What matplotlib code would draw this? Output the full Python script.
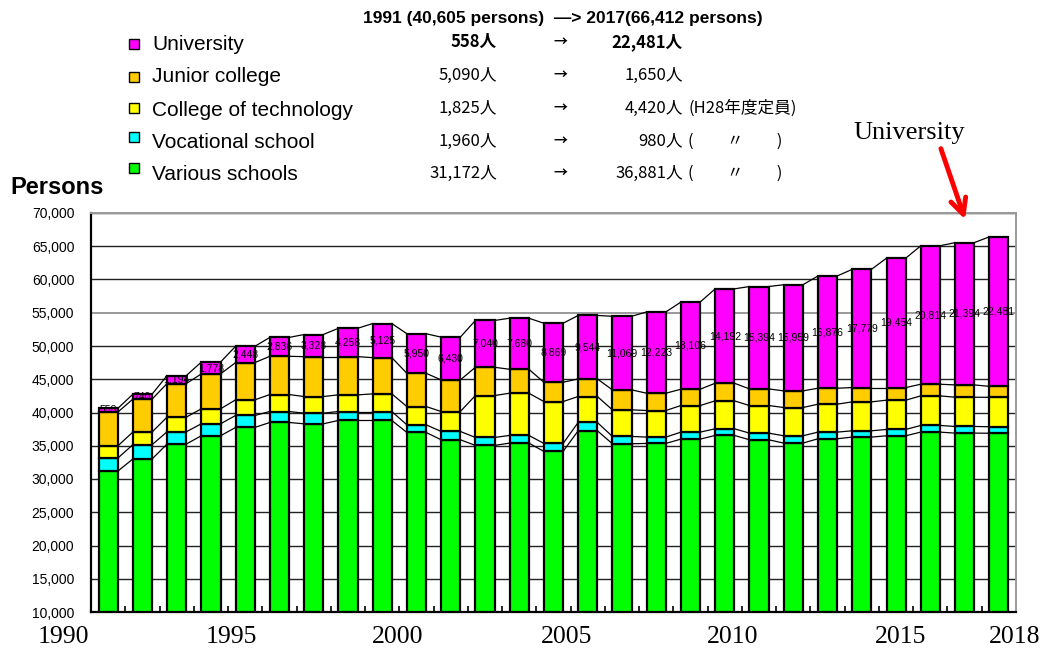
import matplotlib
matplotlib.use('Agg')
import matplotlib.pyplot as plt
import matplotlib.transforms as mtransforms
import numpy as np
from matplotlib.patches import Rectangle

years = list(range(1991, 2018))
various = [31172, 33000, 35250, 36500, 37750, 38500, 38300, 38800, 38800, 37000,
           35900, 35050, 35400, 34150, 37250, 35300, 35350, 36000, 36550, 35900,
           35400, 36050, 36300, 36500, 37050, 36900, 36881]
vocational = [1960, 2150, 1850, 1800, 1800, 1650, 1600, 1350, 1350, 1150,
              1250, 1200, 1150, 1200, 1250, 1100, 950, 1050, 1000, 1000,
              1100, 1000, 950, 950, 1000, 1000, 980]
technology = [1825, 1900, 2200, 2250, 2350, 2550, 2500, 2500, 2650, 2750,
              3000, 6300, 6350, 6300, 3900, 4000, 4000, 4000, 4200, 4150,
              4250, 4200, 4350, 4400, 4450, 4400, 4420]
junior = [5090, 4950, 5050, 5250, 5600, 5750, 6000, 5750, 5450, 5000,
          4750, 4250, 3600, 2900, 2650, 3000, 2600, 2450, 2650, 2500,
          2500, 2400, 2150, 1900, 1750, 1850, 1650]
university = [558, 740, 1194, 1778, 2448, 2836, 3328, 4258, 5125, 5950,
              6430, 7040, 7680, 8869, 9544, 11069, 12223, 13106, 14192, 15394,
              15959, 16876, 17779, 19454, 20814, 21394, 22481]

series_names = ["Various schools", "Vocational school", "College of technology",
                "Junior college", "University"]
series_colors = ["#00FF00", "#00FFFF", "#FFFF00", "#FFCC00", "#FF00FF"]

legend_rows = ["University", "Junior college", "College of technology",
               "Vocational school", "Various schools"]
legend_colors = ["#FF00FF", "#FFCC00", "#FFFF00", "#00FFFF", "#00FF00"]
from_vals = ["558人", "5,090人", "1,825人", "1,960人", "31,172人"]
to_vals = ["22,481人", "1,650人", "4,420人", "980人", "36,881人"]
notes = ["", "", "(H28年度定員)", "(　　〃　　)", "(　　〃　　)"]
header = "1991 (40,605 persons)  —> 2017(66,412 persons)"

year_labels = ["1990", "1995", "2000", "2005", "2010", "2015", "2018"]
year_label_pos = [1989.70, 1994.59, 1999.45, 2004.38, 2009.24, 2014.14, 2017.46]

W, H = 1044, 652
fig = plt.figure(figsize=(W / 100, H / 100), dpi=100)
ax = fig.add_axes([91 / W, 1 - 612 / H, (1016 - 91) / W, (612 - 213) / H])

x = np.array(years, dtype=float)
bw = 0.56
data = [various, vocational, technology, junior, university]
bottom = np.zeros(len(years))
tops = []
for vals, col in zip(data, series_colors):
    v = np.array(vals, dtype=float)
    ax.bar(x, v, bw, bottom=bottom, color=col, edgecolor="black",
           linewidth=1.6, zorder=2)
    bottom = bottom + v
    tops.append(bottom.copy())

# series lines connecting segment tops
for t in tops:
    for i in range(len(x) - 1):
        ax.plot([x[i] + bw / 2, x[i + 1] - bw / 2], [t[i], t[i + 1]],
                color="black", lw=0.9, zorder=3)

# university labels
uni = np.array(university, dtype=float)
for xi, top, u in zip(x, tops[-1], uni):
    ax.text(xi, top - u / 2, f"{int(u):,}", ha="center", va="center",
            fontsize=7.5, family="Liberation Sans", zorder=4)

ax.set_yticks(np.arange(10000, 70001, 5000))
ax.set_yticklabels([f"{v:,}" for v in range(10000, 70001, 5000)],
                   fontsize=10, family="Liberation Sans")
ax.tick_params(axis="y", length=0, pad=12)
ax.set_xticks([])
ax.set_xticks(np.arange(1991.5, 2017.0, 1.0), minor=True)
ax.tick_params(axis="x", which="minor", direction="in", length=4, width=1.2,
               color="black")
ax.set_xlim(1990.5, 2017.5)
ax.set_ylim(10000, 70000)

# year labels below the axis
trans = mtransforms.blended_transform_factory(ax.transData, ax.transAxes)
for pos, lab in zip(year_label_pos, year_labels):
    ax.text(pos, -(637 - 612) / 399, lab, transform=trans, ha="center",
            va="center", fontsize=18.5, family="Liberation Serif", clip_on=False)

ax.set_axisbelow(True)
ax.yaxis.grid(True, color="#222222", lw=1.0)
gl = ax.get_ygridlines()
gl[9].set_color("#9a9a9a")
gl[9].set_linewidth(1.4)
for s in ["left", "bottom"]:
    ax.spines[s].set_color("black")
    ax.spines[s].set_linewidth(1.6)
for s in ["top", "right"]:
    ax.spines[s].set_color("#9a9a9a")
    ax.spines[s].set_linewidth(1.4)

# header
fig.text(563 / W, 1 - 18 / H, header, ha="center", va="center",
         fontsize=12.5, fontweight="bold", family="Liberation Sans")

# legend block
row_y = [44, 77, 110, 143, 175]
mark_y = [44, 77, 108, 137, 168]
cjk = ["Noto Sans CJK JP", "DejaVu Sans"]
for i in range(5):
    fig.patches.append(Rectangle(((134 - 5) / W, 1 - (mark_y[i] + 5) / H),
                                 10 / W, 10 / H, transform=fig.transFigure,
                                 facecolor=legend_colors[i], edgecolor="black",
                                 linewidth=1.0))
    fig.text(152 / W, 1 - row_y[i] / H, legend_rows[i], ha="left", va="center",
             fontsize=15, family="Liberation Sans")
    wt = "bold" if i == 0 else "normal"
    fig.text(497 / W, 1 - (row_y[i] - 2) / H, from_vals[i], ha="right",
             va="center", fontsize=12, family=cjk, fontweight=wt)
    fig.text(560 / W, 1 - (row_y[i] - 2) / H, "→", ha="center", va="center",
             fontsize=10, family=cjk, fontweight="bold")
    fig.text(683 / W, 1 - (row_y[i] - 2) / H, to_vals[i], ha="right",
             va="center", fontsize=12, family=cjk, fontweight=wt)
    if notes[i]:
        fig.text(688 / W, 1 - (row_y[i] - 2) / H, notes[i], ha="left",
                 va="center", fontsize=12, family=cjk)

fig.text(10 / W, 1 - 187 / H, "Persons", ha="left", va="center",
         fontsize=17, fontweight="bold", family="Liberation Sans")

fig.text(909 / W, 1 - 133 / H, "University", ha="center", va="center",
         fontsize=19, family="Liberation Serif")
ax.annotate("", xy=(966 / W, 1 - 222 / H), xycoords="figure fraction",
            xytext=(940 / W, 1 - 146 / H), textcoords="figure fraction",
            arrowprops=dict(arrowstyle="->", color="red", lw=3.5,
                            mutation_scale=28))

fig.savefig("out.png", dpi=100, facecolor="white")
